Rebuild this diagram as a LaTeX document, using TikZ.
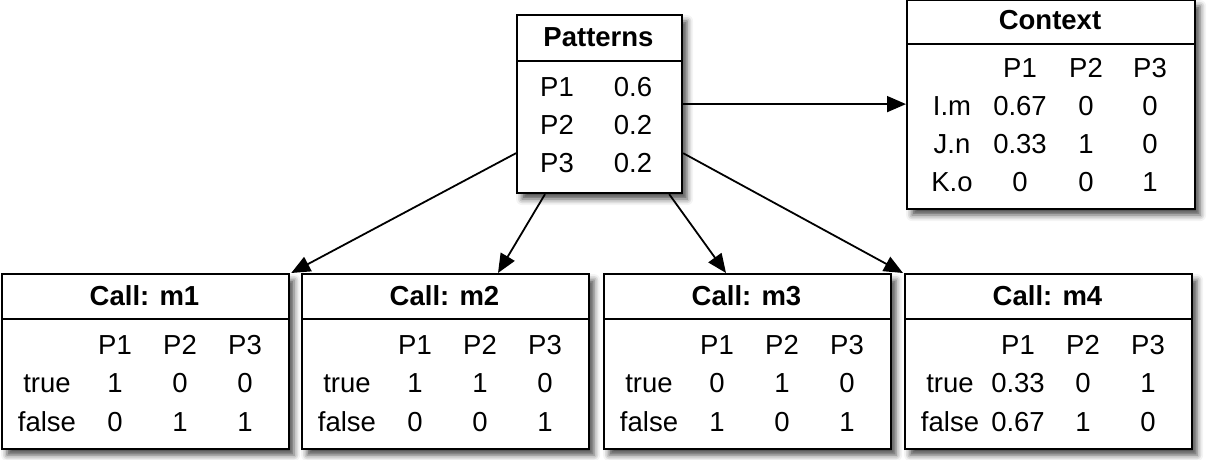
\documentclass[tikz,border=0pt]{standalone}
\usepackage{fontspec}
\setmainfont{Liberation Sans}
\usetikzlibrary{arrows.meta,shadows.blur}
\tikzset{
  box/.style={draw=black, line width=2.2pt, fill=white, inner sep=0pt, anchor=north west,
    blur shadow={shadow xshift=5pt, shadow yshift=-6pt, shadow blur radius=6pt, shadow opacity=70}},
  rule/.style={line width=2pt},
  tx/.style={inner sep=0pt, text height=19.5pt, text depth=0pt, font=\fontsize{27.5}{32}\selectfont},
  hd/.style={tx, font=\fontsize{27.5}{32}\selectfont\bfseries},
  conn/.style={line width=1.8pt, -{Triangle[length=19pt,width=16pt]}},
}
\newcommand\callbox[9]{%
  \node[box, minimum width=287pt, minimum height=175pt] (#1) at (#2,273) {};
  \draw[rule] ([yshift=-46pt]#1.north west) -- ([yshift=-46pt]#1.north east);
  \begin{scope}[shift={(#2,273)}]
    \node[hd] (#1-h) at (143.5,23) {Call: #1};
    \node[tx] (#1-c1) at (114,72) {P1};
    \node[tx] (#1-c2) at (179,72) {P2};
    \node[tx] (#1-c3) at (244,72) {P3};
    \node[tx] (#1-t) at (46,110) {true};
    \node[tx] (#1-t1) at (114,110) {#3};
    \node[tx] (#1-t2) at (179,110) {#4};
    \node[tx] (#1-t3) at (244,110) {#5};
    \node[tx] (#1-f) at (46,149) {false};
    \node[tx] (#1-f1) at (114,149) {#6};
    \node[tx] (#1-f2) at (179,149) {#7};
    \node[tx] (#1-f3) at (244,149) {#8};
  \end{scope}%
}
\begin{document}
\begin{tikzpicture}[x=1pt,y=-1pt]
\useasboundingbox (0,0) rectangle (1210,460);
% Patterns
\node[box, minimum width=165pt, minimum height=178pt] (pat) at (516,14) {};
\draw[rule] ([yshift=-47pt]pat.north west) -- ([yshift=-47pt]pat.north east);
\node[hd] (pat-h) at (598.5,37) {Patterns};
\node[tx] (pat-l1) at (557,87) {P1};
\node[tx] (pat-v1) at (633,87) {0.6};
\node[tx] (pat-l2) at (557,125) {P2};
\node[tx] (pat-v2) at (633,125) {0.2};
\node[tx] (pat-l3) at (557,163) {P3};
\node[tx] (pat-v3) at (633,163) {0.2};
% Context
\node[box, minimum width=288pt, minimum height=209pt] (ctx) at (906,-1) {};
\draw[rule] ([yshift=-45pt]ctx.north west) -- ([yshift=-45pt]ctx.north east);
\node[hd] (ctx-h) at (1050,20) {Context};
\node[tx] (ctx-c1) at (1020,68) {P1};
\node[tx] (ctx-c2) at (1086,68) {P2};
\node[tx] (ctx-c3) at (1150,68) {P3};
\node[tx] (ctx-r1) at (952,106) {I.m};
\node[tx] (ctx-a1) at (1020,106) {0.67};
\node[tx] (ctx-a2) at (1086,106) {0};
\node[tx] (ctx-a3) at (1150,106) {0};
\node[tx] (ctx-r2) at (952,144) {J.n};
\node[tx] (ctx-b1) at (1020,144) {0.33};
\node[tx] (ctx-b2) at (1086,144) {1};
\node[tx] (ctx-b3) at (1150,144) {0};
\node[tx] (ctx-r3) at (952,182) {K.o};
\node[tx] (ctx-d1) at (1020,182) {0};
\node[tx] (ctx-d2) at (1086,182) {0};
\node[tx] (ctx-d3) at (1150,182) {1};
% Calls
\callbox{m1}{1}{1}{0}{0}{0}{1}{1}{}
\callbox{m2}{301}{1}{1}{0}{0}{0}{1}{}
\callbox{m3}{603}{0}{1}{0}{1}{0}{1}{}
\callbox{m4}{904}{0.33}{0}{1}{0.67}{1}{0}{}
% Connectors
\draw[conn] (pat.east) -- (pat.east -| ctx.west);
\draw[conn] ([yshift=41pt]pat.south west) -- ([xshift=1pt]m1.north east);
\draw[conn] ([xshift=29pt]pat.south west) -- ([xshift=197pt]m2.north west);
\draw[conn] ([xshift=-14pt]pat.south east) -- ([xshift=123pt]m3.north west);
\draw[conn] ([yshift=41pt]pat.south east) -- ([xshift=-1pt]m4.north west);
\end{tikzpicture}
\end{document}
